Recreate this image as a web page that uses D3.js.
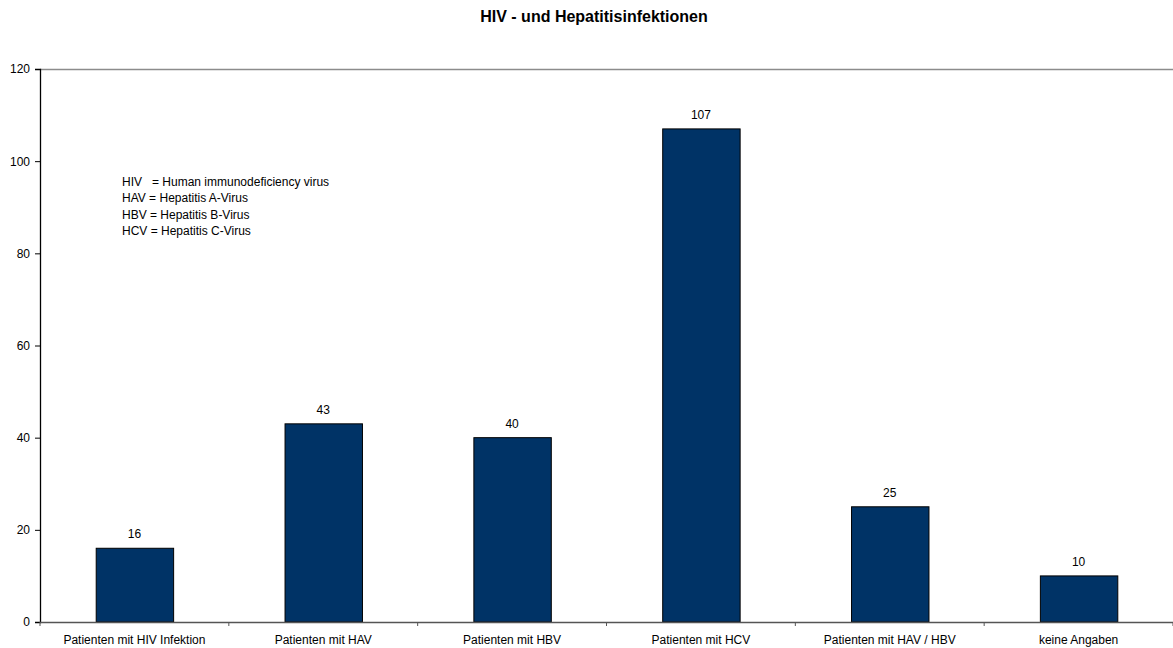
<!DOCTYPE html>
<html><head><meta charset="utf-8">
<script src="https://cdn.jsdelivr.net/npm/d3@7"></script>
<style>body{margin:0;background:#fff}svg{display:block}text{font-family:"Liberation Sans",Arial,sans-serif}</style>
</head><body><svg id="c" width="1173" height="648"></svg>
<script>
const categories = ["Patienten mit HIV Infektion","Patienten mit HAV","Patienten mit HBV","Patienten mit HCV","Patienten mit HAV / HBV","keine Angaben"];
const values = [16, 43, 40, 107, 25, 10];
const yTicks = [0, 20, 40, 60, 80, 100, 120];
const legendLines = ["HIV   = Human immunodeficiency virus","HAV = Hepatitis A-Virus","HBV = Hepatitis B-Virus","HCV = Hepatitis C-Virus"];
const title = "HIV - und Hepatitisinfektionen";

const svg = d3.select("#c");
const L = 40, R = 1173, T = 69, B = 622;
const x = d3.scaleBand().domain(categories).range([L, R]).paddingInner(0.59).paddingOuter(0.295);
const band = (R - L) / categories.length;
const y = d3.scaleLinear().domain([0, 120]).range([B, T]);

svg.append("text").attr("x", 594).attr("y", 22).attr("text-anchor", "middle")
  .attr("font-size", 16).attr("font-weight", "bold").text(title);

// top border
svg.append("line").attr("x1", L).attr("x2", R).attr("y1", T + 0.5).attr("y2", T + 0.5)
  .attr("stroke", "#8c8c8c").attr("stroke-width", 1.5);

// bars
svg.selectAll("rect.bar").data(values).join("rect").attr("class", "bar")
  .attr("x", (d, i) => x(categories[i]) + 0.5).attr("y", d => y(d))
  .attr("width", x.bandwidth()).attr("height", d => B - y(d))
  .attr("fill", "#003366").attr("stroke", "#000").attr("stroke-width", 1);

svg.selectAll("text.val").data(values).join("text").attr("class", "val")
  .attr("x", (d, i) => x(categories[i]) + x.bandwidth() / 2).attr("y", d => y(d) - 10)
  .attr("text-anchor", "middle").attr("font-size", 12).text(d => d);

// y axis
const yAxis = d3.axisLeft(y).tickValues(yTicks).tickSize(5).tickPadding(5);
const gy = svg.append("g").attr("transform", `translate(${L},0)`).call(yAxis);
gy.select(".domain").attr("stroke", "#000").attr("stroke-width", 1.3);
gy.selectAll(".tick line").attr("stroke", "#000");
gy.selectAll(".tick text").attr("font-size", 12).attr("font-family", "Liberation Sans, Arial, sans-serif").attr("fill", "#000");

// x axis
const gx = svg.append("g").attr("transform", `translate(0,${B})`);
gx.append("line").attr("x1", L).attr("x2", R).attr("y1", 0.5).attr("y2", 0.5).attr("stroke", "#555").attr("stroke-width", 1.5);
gx.selectAll("line.t").data(d3.range(categories.length + 1)).join("line").attr("class", "t")
  .attr("x1", i => L + i * band).attr("x2", i => L + i * band).attr("y1", 0).attr("y2", 4).attr("stroke", "#555");
gx.selectAll("text").data(categories).join("text")
  .attr("x", d => x(d) + x.bandwidth() / 2).attr("y", 22).attr("text-anchor", "middle")
  .attr("font-size", 12).text(d => d);

// legend text
svg.selectAll("text.leg").data(legendLines).join("text").attr("class", "leg")
  .attr("x", 122).attr("y", (d, i) => 186 + i * 16.3).attr("font-size", 12)
  .attr("xml:space", "preserve").style("white-space", "pre").text(d => d);
</script></body></html>
